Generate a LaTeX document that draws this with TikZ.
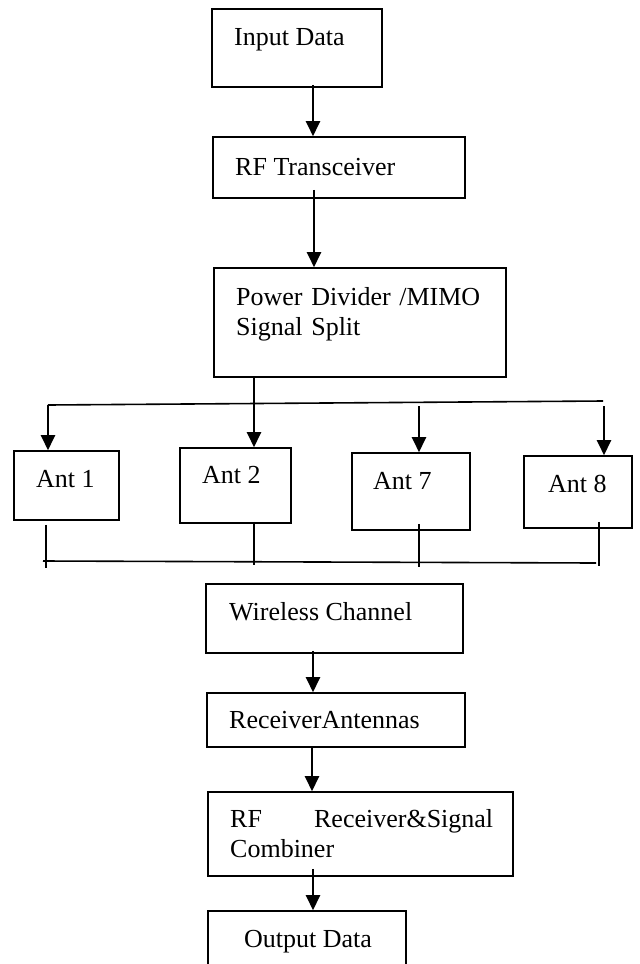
\documentclass[tikz,border=0pt]{standalone}
\usepackage{fontspec}
\setmainfont{Liberation Serif}
\usetikzlibrary{arrows.meta}
\tikzset{block/.style={draw,rectangle,line width=0.8pt,inner sep=0pt}}
\tikzset{txt/.style={anchor=base west,inner sep=0pt,
                     font=\fontsize{13}{15}\selectfont}}

\begin{document}
\begin{tikzpicture}[x=0.5pt,y=-0.5pt,>={Triangle[length=7.5pt,width=7pt]},line width=1.2pt]
    % units are the pixels of the sketch: x to the right, y downwards
  \tikzstyle{bus}=[line width=0.8pt]
  \useasboundingbox (0,0) rectangle (640,964);

  % Transmitter side
  \node (input)   [block,minimum width=85pt,minimum height=39pt]   at (297,48)    {};
  \node (rftx)    [block,minimum width=126pt,minimum height=30.5pt] at (339,167.5) {};
  \node (divider) [block,minimum width=146pt,minimum height=54.5pt] at (360,322.5) {};

  % The four antennas
  \node (ant1) [block,minimum width=52.5pt,minimum height=34.5pt] at (66.5,485.5) {};
  \node (ant2) [block,minimum width=55.5pt,minimum height=37.5pt] at (235.5,485.5) {};
  \node (ant7) [block,minimum width=59pt,minimum height=38.5pt]   at (411,491.5)  {};
  \node (ant8) [block,minimum width=54pt,minimum height=36pt]     at (578,492)    {};

  % Receiver side
  \node (channel) [block,minimum width=128.5pt,minimum height=34.5pt] at (334.5,618.5) {};
  \node (rxant)   [block,minimum width=129pt,minimum height=27pt]     at (336,720)     {};
  \node (rxcomb)  [block,minimum width=152.5pt,minimum height=42pt]   at (360.5,834)   {};
  \node (output)  [block,minimum width=99pt,minimum height=39.5pt]    at (307,950.5)   {};

  % Texts sit in the upper left part of each box
  \node (input_txt)   [txt] at (233,45)  {Input Data};
  \node (rftx_txt)    [txt] at (234,175) {RF Transceiver};
  \node (divider_txt) [txt,text width=130pt,align=left] at (235,305)
        {Power Divider /MIMO\\Signal Split};
  \node (ant1_txt)    [txt] at (35,487)  {Ant 1};
  \node (ant2_txt)    [txt] at (201,483) {Ant 2};
  \node (ant7_txt)    [txt] at (372,489) {Ant 7};
  \node (ant8_txt)    [txt] at (547,492) {Ant 8};
  \node (channel_txt) [txt] at (228,620) {Wireless Channel};
  \node (rxant_txt)   [txt] at (228,728) {ReceiverAntennas};
  \node (rxcomb_txt)  [txt,text width=131.5pt,align=justify] at (229,827)
        {RF\hfill Receiver\&Signal\\Combiner};
  \node (output_txt)  [txt] at (243,947) {Output Data};

  % Start points of the vertical links
  \coordinate (a1) at ([xshift=8pt,yshift=1.5pt]input.south);
  \coordinate (a2) at ([xshift=-12.5pt,yshift=4.5pt]rftx.south);
  \coordinate (a3) at ([xshift=-53pt]divider.south);
  \coordinate (a4) at ([xshift=-10.75pt,yshift=1.5pt]channel.south);
  \coordinate (a5) at ([xshift=-12pt]rxant.south);
  \coordinate (a6) at ([xshift=-23.75pt,yshift=4pt]rxcomb.south);

  % Splitting bus above the antennas
  \coordinate (busL) at (48,405);
  \coordinate (busR) at (603,401);
  \coordinate (t7) at (419,406);
  \coordinate (t8) at (604,406);

  % Combining bus below the antennas
  \coordinate (s1) at ([xshift=-10.25pt,yshift=-2pt]ant1.south);
  \coordinate (s2) at ([xshift=9.25pt,yshift=1pt]ant2.south);
  \coordinate (s7) at ([xshift=4pt,yshift=3.5pt]ant7.south);
  \coordinate (s8) at ([xshift=10.5pt,yshift=3.5pt]ant8.south);
  \coordinate (busBL) at (43,561);
  \coordinate (busBR) at (596,563);

  % Arrows between the blocks
  \draw[->] (a1) -- (a1 |- rftx.north);
  \draw[->] (a2) -- (a2 |- divider.north);
  \draw[->] (a3) -- (a3 |- ant2.north);
  \draw[->] (a4) -- (a4 |- rxant.north);
  \draw[->] (a5) -- (a5 |- rxcomb.north);
  \draw[->] (a6) -- (a6 |- output.north);

  \draw[bus] (busL) -- (busR);
  \draw[->] (busL) -- (busL |- ant1.north);
  \draw[->] (t7) -- (t7 |- ant7.north);
  \draw[->] (t8) -- (t8 |- ant8.north);

  \draw[bus] (busBL) -- (busBR);
  \draw[bus] (s1) -- ++(0,43);
  \draw[bus] (s2) -- ++(0,43);
  \draw[bus] (s7) -- ++(0,43);
  \draw[bus] (s8) -- ++(0,44);

\end{tikzpicture}
\end{document}
